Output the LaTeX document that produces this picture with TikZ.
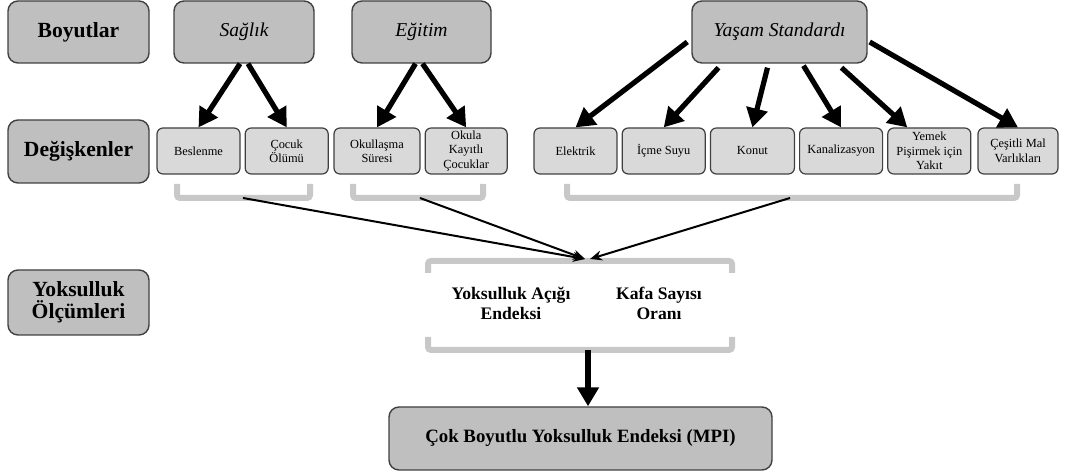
\documentclass[tikz,border=0pt]{standalone}
\usepackage{fontspec}
\setmainfont{Liberation Serif}
\usetikzlibrary{arrows.meta, positioning}

\definecolor{boxdark}{HTML}{BFBFBF}
\definecolor{boxlight}{HTML}{D9D9D9}
\definecolor{boxedge}{HTML}{404040}
\definecolor{bracketgray}{HTML}{C8C8C8}

\begin{document}
\begin{tikzpicture}[
    x=0.5pt, y=-0.5pt,
    node distance=2pt,
    headerbox/.style={
        draw=boxedge,
        line width=0.7pt,
        rounded corners=5pt,
        fill=boxdark,
        minimum width=70.5pt,
        minimum height=31pt,
        align=center,
        inner sep=1pt,
        font=\fontsize{10.8}{11.2}\selectfont\bfseries,
    },
    dimbox/.style={
        headerbox,
        font=\fontsize{9.8}{11}\selectfont\itshape,
    },
    varbox/.style={
        draw=boxedge,
        line width=0.6pt,
        rounded corners=3pt,
        fill=boxlight,
        minimum width=41.5pt,
        minimum height=23pt,
        align=center,
        inner sep=1pt,
        font=\fontsize{6.2}{7.2}\selectfont,
    },
    measuretext/.style={
        align=center,
        font=\fontsize{8.8}{10}\selectfont\bfseries,
    },
    bigarrow/.style={
        line width=2.6pt,
        -{Triangle[length=9.5pt,width=10.5pt]},
    },
    thinarrow/.style={
        line width=1pt,
        -{Stealth[length=6pt,width=5pt]},
    },
    bracketline/.style={
        bracketgray,
        line width=3pt,
        rounded corners=1.5pt,
    }
]
    \useasboundingbox (0,0) rectangle (1073,474);

    % Row labels
    \node[headerbox] (dims) at (78.5,32) {Boyutlar};
    \node[headerbox, minimum height=31.5pt] (vars) at (78.5,151.5) {Değişkenler};
    \node[headerbox, minimum height=32.5pt] (measures) at (78.5,302.5) {Yoksulluk\\Ölçümleri};

    % Dimensions
    \node[dimbox, minimum width=70pt] (saglik) at (244,32) {Sağlık};
    \node[dimbox, minimum width=69.5pt] (egitim) at (421.5,32) {Eğitim};
    \node[dimbox, minimum width=87.5pt] (yasam) at (779.5,32) {Yaşam Standardı};

    % Variables
    \node[varbox] (beslenme) at (198.5,151) {Beslenme};
    \node[varbox, right=of beslenme] (cocuk) {Çocuk\\Ölümü};
    \node[varbox, minimum width=43pt] (okullasma) at (377,151) {Okullaşma\\Süresi};
    \node[varbox, minimum width=41pt, right=of okullasma] (okula) {Okula\\Kayıtlı\\Çocuklar};
    \node[varbox] (elektrik) at (575.5,151) {Elektrik};
    \node[varbox, right=of elektrik] (icme) {İçme Suyu};
    \node[varbox, minimum width=42pt, right=of icme] (konut) {Konut};
    \node[varbox, right=of konut] (kanal) {Kanalizasyon};
    \node[varbox, right=of kanal] (yemek) {Yemek\\Pişirmek için\\Yakıt};
    \node[varbox, minimum width=40pt, right=3pt of yemek] (cesitli) {Çeşitli Mal\\Varlıkları};

    % Dimension -> variable arrows
    \draw[bigarrow] ([xshift=-2pt]saglik.south) -- (beslenme.north);
    \draw[bigarrow] ([xshift=2pt]saglik.south) -- (cocuk.north);
    \draw[bigarrow] ([xshift=-3pt]egitim.south) -- (okullasma.north);
    \draw[bigarrow] ([xshift=0.5pt]egitim.south) -- (okula.north);
    \draw[bigarrow] ([xshift=-2pt,yshift=-5pt]yasam.west) -- (elektrik.north);
    \draw[bigarrow] ([xshift=-30.5pt,yshift=-2pt]yasam.south) -- (icme.north);
    \draw[bigarrow] ([xshift=-6pt,yshift=-2pt]yasam.south) -- (konut.north);
    \draw[bigarrow] ([xshift=12pt,yshift=-1pt]yasam.south) -- (kanal.north);
    \draw[bigarrow] ([xshift=31pt,yshift=-2pt]yasam.south) -- ([xshift=-11pt]yemek.north);
    \draw[bigarrow] ([xshift=1pt,yshift=-5pt]yasam.east) -- (cesitli.north);

    % Brackets under the variables
    \coordinate (hb) at (243,198);
    \coordinate (eb) at (420,198);
    \coordinate (yb) at (790,198);
    \draw[bracketline] (177,184) |- (hb) -| (310,184);
    \draw[bracketline] (353,184) |- (eb) -| (483,184);
    \draw[bracketline] (567,184) |- (yb) -| (1017,184);

    % Bracket round the measures
    \coordinate (mtopl) at (585,259);
    \coordinate (mtopr) at (590,259);
    \coordinate (mbot) at (588,350);
    \draw[bracketline] (428,273) |- (732,261) -- (732,273);
    \draw[bracketline] (428,337) |- (732,350) -- (732,337);

    \node[measuretext] (gap) at (511,303) {Yoksulluk Açığı\\Endeksi};
    \node[measuretext] (headcount) at (659,303) {Kafa Sayısı\\Oranı};

    % Variables -> measures
    \draw[thinarrow] (hb) -- (mtopl);
    \draw[thinarrow] (eb) -- (mtopl);
    \draw[thinarrow] (yb) -- (mtopr);

    % Final index
    \node[headerbox, minimum width=191.5pt, minimum height=31.5pt, font=\fontsize{9.4}{11}\selectfont\bfseries] (mpi) at (580.5,438.5) {Çok Boyutlu Yoksulluk Endeksi (MPI)};
    \draw[bigarrow] (mbot) -- (mbot |- mpi.north);

\end{tikzpicture}
\end{document}
